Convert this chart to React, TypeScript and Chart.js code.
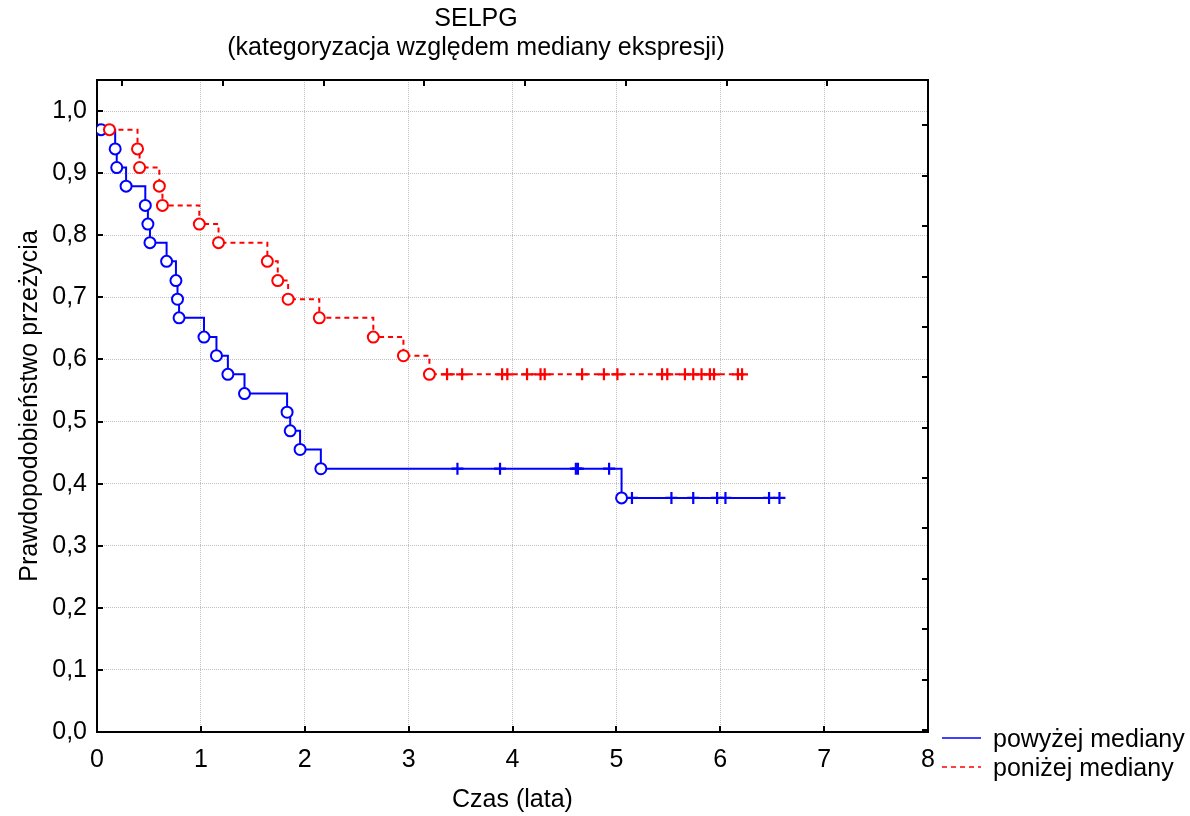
import React, { useEffect, useRef } from "react";
import { Chart, registerables } from "chart.js";

Chart.register(...registerables);

const FONT = "'Liberation Sans', Arial, Helvetica, sans-serif";

const titleLines = ["SELPG", "(kategoryzacja względem mediany ekspresji)"];
const xAxisTitle = "Czas (lata)";
const yAxisTitle = "Prawdopodobieństwo przeżycia";
const seriesLabels = ["powyżej mediany", "poniżej mediany"];
const seriesColors = ["#0000ff", "#ff0000"];

const xTickValues = [0, 1, 2, 3, 4, 5, 6, 7, 8];
const yTickValues = [0, 0.1, 0.2, 0.3, 0.4, 0.5, 0.6, 0.7, 0.8, 0.9, 1.0];

// powyżej mediany
const aboveEventTimes = [0.04, 0.175, 0.19, 0.28, 0.465, 0.49, 0.51, 0.67, 0.76, 0.775, 0.79, 1.03, 1.15, 1.26, 1.42, 1.83, 1.86, 1.955, 2.155, 5.05];
const aboveEventSurvival = [0.970, 0.939, 0.909, 0.879, 0.848, 0.818, 0.788, 0.758, 0.727, 0.697, 0.667, 0.636, 0.606, 0.576, 0.545, 0.515, 0.485, 0.455, 0.424, 0.377];
const aboveCensorTimes = [3.47, 3.88, 4.61, 4.63, 4.93, 5.15, 5.53, 5.74, 5.97, 6.05, 6.47, 6.57];

// poniżej mediany
const belowEventTimes = [0.12, 0.39, 0.41, 0.60, 0.63, 0.985, 1.17, 1.64, 1.74, 1.84, 2.14, 2.66, 2.95, 3.20];
const belowEventSurvival = [0.970, 0.939, 0.909, 0.879, 0.848, 0.818, 0.788, 0.758, 0.727, 0.697, 0.667, 0.636, 0.606, 0.576];
const belowCensorTimes = [3.37, 3.515, 3.90, 3.95, 4.14, 4.27, 4.31, 4.67, 4.88, 5.01, 5.44, 5.49, 5.66, 5.74, 5.82, 5.90, 5.94, 6.17, 6.21];

type Pt = { x: number; y: number; kind: "event" | "censor" };

function buildCurve(eventT: number[], eventS: number[], censorT: number[]): Pt[] {
  const pts: Pt[] = eventT.map((t, i) => ({ x: t, y: eventS[i], kind: "event" as const }));
  censorT.forEach((t) => {
    let s = eventS[0];
    eventT.forEach((et, i) => {
      if (et <= t) s = eventS[i];
    });
    pts.push({ x: t, y: s, kind: "censor" });
  });
  pts.sort((a, b) => a.x - b.x);
  return pts;
}

const fmt = (v: number) => v.toFixed(1).replace(".", ",");

const decorPlugin = {
  id: "decor",
  beforeDatasetsDraw(chart: any) {
    const { ctx, chartArea: a, scales } = chart;
    const L = 6;
    ctx.save();
    ctx.strokeStyle = "#000";
    ctx.lineWidth = 2;
    ctx.beginPath();
    scales.x.ticks.forEach((t: any) => {
      const p = Math.round(scales.x.getPixelForValue(t.value));
      ctx.moveTo(p, a.bottom);
      ctx.lineTo(p, a.bottom - L);
    });
    scales.y.ticks.forEach((t: any) => {
      const p = Math.round(scales.y.getPixelForValue(t.value));
      ctx.moveTo(a.left, p);
      ctx.lineTo(a.left + L, p);
    });
    scales.x2.ticks.forEach((t: any) => {
      const p = Math.round(scales.x2.getPixelForValue(t.value));
      ctx.moveTo(p, a.top);
      ctx.lineTo(p, a.top + L);
    });
    scales.y2.ticks.forEach((t: any) => {
      const p = Math.round(scales.y2.getPixelForValue(t.value));
      ctx.moveTo(a.right, p);
      ctx.lineTo(a.right - L, p);
    });
    ctx.stroke();
    ctx.restore();
  },
  afterDraw(chart: any) {
    const { ctx } = chart;
    ctx.save();
    ctx.fillStyle = "#000";
    ctx.font = `25px ${FONT}`;
    ctx.textAlign = "center";
    ctx.textBaseline = "middle";
    ctx.fillText(titleLines[0], 476, 19);
    ctx.fillText(titleLines[1], 476, 48);

    // legend
    const rows = [738, 767];
    chart.data.datasets.forEach((ds: any, i: number) => {
      const y = rows[i];
      ctx.save();
      ctx.strokeStyle = ds.borderColor;
      ctx.lineWidth = 1.6;
      ctx.setLineDash(ds.borderDash || []);
      ctx.beginPath();
      ctx.moveTo(942, y);
      ctx.lineTo(981, y);
      ctx.stroke();
      ctx.restore();
      ctx.fillStyle = "#000";
      ctx.textAlign = "left";
      ctx.textBaseline = "alphabetic";
      ctx.fillText(ds.label, 993, y + 9);
    });
    ctx.restore();
  },
};

export default function App() {
  const ref = useRef<HTMLCanvasElement | null>(null);

  useEffect(() => {
    if (!ref.current) return;
    const above = buildCurve(aboveEventTimes, aboveEventSurvival, aboveCensorTimes);
    const below = buildCurve(belowEventTimes, belowEventSurvival, belowCensorTimes);

    const mk = (label: string, color: string, data: Pt[], dash: number[], order: number) => ({
      label,
      data,
      borderColor: color,
      borderWidth: 2,
      borderDash: dash,
      stepped: true,
      fill: false,
      order,
      pointStyle: (c: any) => (c.raw && c.raw.kind === "censor" ? "cross" : "circle"),
      pointRadius: (c: any) => (c.raw && c.raw.kind === "censor" ? 6 : 5.5),
      pointBorderWidth: (c: any) => (c.raw && c.raw.kind === "censor" ? 2.2 : 2),
      pointBackgroundColor: "#ffffff",
      pointBorderColor: color,
      pointHoverRadius: 5.5,
    });

    const chart = new Chart(ref.current, {
      type: "line",
      data: {
        datasets: [
          mk(seriesLabels[0], seriesColors[0], above, [], 2),
          mk(seriesLabels[1], seriesColors[1], below, [5, 4], 1),
        ] as any,
      },
      options: {
        responsive: false,
        animation: false,
        parsing: false as any,
        normalized: true,
        layout: { padding: { left: 0, right: 262, top: 80, bottom: 0 } },
        plugins: {
          legend: { display: false },
          title: { display: false },
          tooltip: { enabled: false },
        },
        scales: {
          x: {
            type: "linear",
            position: "bottom",
            min: 0,
            max: 8,
            afterBuildTicks: (s: any) => {
              s.ticks = xTickValues.map((v) => ({ value: v }));
            },
            afterFit: (s: any) => {
              s.height = 84;
            },
            ticks: {
              color: "#000",
              font: { family: FONT, size: 25 },
              padding: 13,
              maxRotation: 0,
              autoSkip: false,
              callback: (v: any) => String(v),
            },
            grid: {
              color: (c: any) => (c.tick && (c.tick.value === 0 || c.tick.value === 8) ? "rgba(0,0,0,0)" : "#c0c0c0"),
              lineWidth: 1,
              drawTicks: false,
            },
            border: { display: true, color: "#000", width: 2, dash: [1, 1] },
            title: {
              display: true,
              text: xAxisTitle,
              color: "#000",
              font: { family: FONT, size: 25 },
              padding: { top: 0, bottom: 1 },
            },
          },
          y: {
            type: "linear",
            position: "left",
            min: 0,
            max: 1.05,
            afterBuildTicks: (s: any) => {
              s.ticks = yTickValues.map((v) => ({ value: v }));
            },
            afterFit: (s: any) => {
              s.width = 97;
            },
            ticks: {
              color: "#000",
              font: { family: FONT, size: 25 },
              padding: 10,
              autoSkip: false,
              callback: (v: any) => fmt(Number(v)),
            },
            grid: {
              color: (c: any) => (c.tick && c.tick.value === 0 ? "rgba(0,0,0,0)" : "#c0c0c0"),
              lineWidth: 1,
              drawTicks: false,
            },
            border: { display: true, color: "#000", width: 2, dash: [1, 1] },
            title: {
              display: true,
              text: yAxisTitle,
              color: "#000",
              font: { family: FONT, size: 25 },
              padding: { top: 15, bottom: 0 },
            },
          },
          x2: {
            type: "linear",
            position: "top",
            min: -0.25,
            max: 8,
            ticks: { display: false, stepSize: 1, includeBounds: false },
            grid: { display: false, drawTicks: false },
            border: { display: true, color: "#000", width: 2 },
            afterFit: (s: any) => {
              s.height = 0;
            },
          },
          y2: {
            type: "linear",
            position: "right",
            min: -0.04,
            max: 12.9,
            ticks: { display: false, stepSize: 1, includeBounds: false },
            grid: { display: false, drawTicks: false },
            border: { display: true, color: "#000", width: 2 },
            afterFit: (s: any) => {
              s.width = 0;
            },
          },
        },
      },
      plugins: [decorPlugin],
    });
    return () => chart.destroy();
  }, []);

  return (
    <div style={{ position: "absolute", left: 0, top: 0, width: 1190, height: 816, background: "#fff" }}>
      <canvas ref={ref} width={1190} height={816} style={{ display: "block", width: 1190, height: 816 }} />
    </div>
  );
}
